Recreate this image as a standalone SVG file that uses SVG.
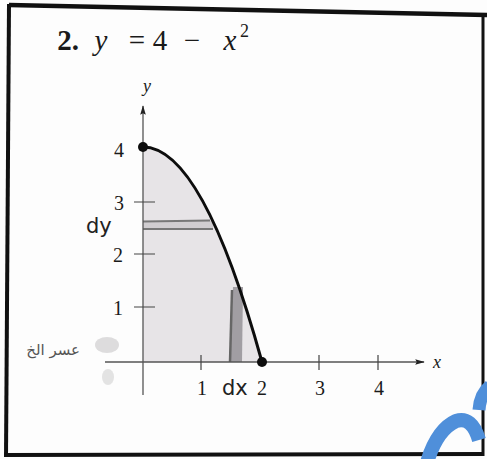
<svg xmlns="http://www.w3.org/2000/svg" width="487" height="459" viewBox="0 0 487 459">
<defs>
<style>
.serif{font-family:"Liberation Serif","Times New Roman",serif;fill:#1a1a1a}
.tick{font-size:20px;text-anchor:middle}
.ttl{font-size:29px;text-anchor:middle}
.axis{stroke:#555;stroke-width:1.3;fill:none}
.tk{stroke:#444;stroke-width:1.2}
.hand{font-family:"DejaVu Sans","Liberation Sans",sans-serif;fill:#222;font-size:21px}
</style>
<marker id="arr" viewBox="0 0 12 10" refX="11" refY="5" markerWidth="12" markerHeight="8" orient="auto" markerUnits="userSpaceOnUse">
<path d="M0,1.5 L12,5 L0,8.5 L2,5 Z" fill="#222"/>
</marker>
</defs>
<rect width="487" height="459" fill="#fdfdfd"/>
<g id="frame">
<path d="M9,5 L487,15" stroke="#111" stroke-width="4.5" fill="none"/>
<path d="M9,4 L6,457" stroke="#111" stroke-width="4" fill="none"/>
<path d="M6,455 L484,454" stroke="#111" stroke-width="4" fill="none"/>
<path d="M483,15 L483,456" stroke="#111" stroke-width="3" fill="none"/>
</g>
<g id="title">
<text class="serif ttl" x="68" y="50" font-weight="bold">2.</text>
<text class="serif ttl" x="101" y="50" font-style="italic">y</text>
<text class="serif ttl" x="137" y="50">=</text>
<text class="serif ttl" x="160" y="50">4</text>
<text class="serif ttl" x="192" y="50">−</text>
<text class="serif ttl" x="230" y="50" font-style="italic">x</text>
<text class="serif" x="240" y="37" font-size="18">2</text>
</g>
<g id="region">
<path d="M143,147 Q202.5,147 262,362 L143,362 Z" fill="#e7e4e7"/>
<rect x="143" y="221" width="70" height="9" fill="#d0cdd0"/>
<path d="M143,221.5 L210,220.5 M143,229 L213,229" stroke="#777" stroke-width="2" fill="none"/>
<path d="M233,287 L243,287 L242,362 L230,362 Z" fill="#a19ea3"/>
<path d="M232,290 L230,362" stroke="#666" stroke-width="2.5"/>
</g>
<g id="connectors">
<path class="axis" d="M105,362 L424,362" marker-end="url(#arr)"/>
<path class="axis" d="M143,395 L143,106" marker-end="url(#arr)"/>
<path class="tk" d="M134,202 L155,202 M134,254 L155,254 M134,307 L155,307 M201,355 L201,370 M319,355 L319,370 M378,355 L378,370"/>
</g>
<g id="curve">
<path d="M143,147 Q202.5,147 262,362" stroke="#0d0d0d" stroke-width="3" fill="none"/>
<circle cx="143" cy="147" r="5" fill="#0d0d0d"/>
<circle cx="262" cy="362" r="5" fill="#0d0d0d"/>
</g>
<g id="labels">
<text class="serif" x="147" y="92" font-size="18" font-style="italic" text-anchor="middle">y</text>
<text class="serif" x="437" y="368" font-size="18" font-style="italic" text-anchor="middle">x</text>
<text class="serif tick" x="119" y="157">4</text>
<text class="serif tick" x="119" y="210">3</text>
<text class="serif tick" x="118" y="262">2</text>
<text class="serif tick" x="118" y="315">1</text>
<text class="serif tick" x="202" y="395">1</text>
<text class="serif tick" x="262" y="395">2</text>
<text class="serif tick" x="320" y="395">3</text>
<text class="serif tick" x="379" y="395">4</text>
<text class="hand" x="86" y="233">dy</text>
<text class="hand" x="222" y="395">dx</text>
</g>
<g id="marks">
<text x="80" y="355" font-family="DejaVu Sans,sans-serif" font-size="15" fill="#555" direction="rtl" text-anchor="start">عسر الخ</text>
<ellipse cx="107" cy="345" rx="12" ry="8" fill="#d5d3d5" opacity="0.8"/>
<ellipse cx="108" cy="377" rx="6" ry="8" fill="#dcdcdc" opacity="0.8"/>
<path d="M426,466 Q436,430 456,421 Q472,416 479,440" stroke="#4f8fda" stroke-width="14" fill="none"/>
<path d="M479,410 Q480,394 490,386" stroke="#4f8fda" stroke-width="13" fill="none"/>
</g>
</svg>
